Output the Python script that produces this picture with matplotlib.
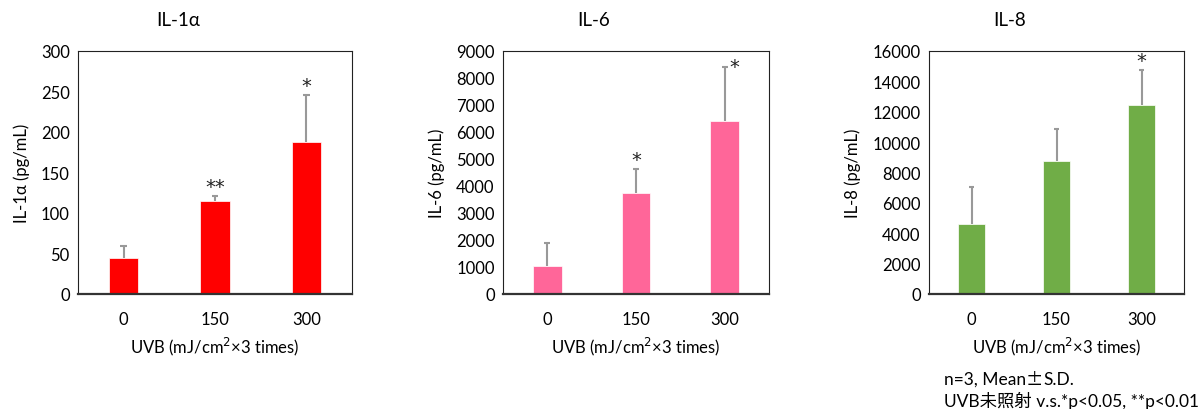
import matplotlib as mpl
mpl.use('Agg')
from matplotlib import pyplot as plt
import numpy as np

plt.rcParams['font.family'] = ['Lato', 'Noto Sans CJK JP', 'DejaVu Sans']

doses = ['0', '150', '300']

il1a_mean = [44, 115, 188]
il1a_sd = [15.5, 6.5, 58]
il1a_stars = ['', '**', '*']

il6_mean = [1030, 3730, 6420]
il6_sd = [870, 910, 2000]
il6_stars = ['', '*', '*']

il8_mean = [4590, 8740, 12470]
il8_sd = [2480, 2130, 2280]
il8_stars = ['', '', '*']

panels = [
    ('IL-1α', 'IL-1α (pg/mL)', il1a_mean, il1a_sd, il1a_stars, '#FF0000', 300, 50),
    ('IL-6', 'IL-6 (pg/mL)', il6_mean, il6_sd, il6_stars, '#FF6699', 9000, 1000),
    ('IL-8', 'IL-8 (pg/mL)', il8_mean, il8_sd, il8_stars, '#70AD47', 16000, 2000),
]

W, H = 1203, 410
fig = plt.figure(figsize=(W / 100, H / 100), dpi=100)

# axes boxes in pixels: left, right
ax_px = [(78, 352), (503, 769), (929, 1184)]
title_x = [178, 594, 1010]
# star offsets in pixels from the top of the error bar
star_off = [[(0, 14)] * 3, [(0, 14), (0, 14), (10, 5)], [(0, 14)] * 3]
top_px, bot_px = 52, 295

for i, (title, ylab, mean, sd, stars, color, ymax, step) in enumerate(panels):
    l, r = ax_px[i]
    ax = fig.add_axes([l / W, 1 - bot_px / H, (r - l) / W, (bot_px - top_px) / H])
    x = np.arange(len(doses)) + 0.5
    mean = np.array(mean, dtype=float)
    sd = np.array(sd, dtype=float)
    ax.bar(x, mean, width=0.32, color=color, edgecolor='white', linewidth=0.5, zorder=2)
    # one-sided error bars
    ax.vlines(x, mean, mean + sd, color='#999999', linewidth=1.5, zorder=3)
    ax.hlines(mean + sd, x - 0.035, x + 0.035, color='#999999', linewidth=1.5, zorder=3)
    for j, s in enumerate(stars):
        if s:
            dx, dy = star_off[i][j]
            ax.annotate(s, (x[j], mean[j] + sd[j]), xytext=(dx, dy - 5),
                        textcoords='offset pixels', ha='center', va='center',
                        fontsize=14, family='DejaVu Sans', color='#222222')
    ax.set_xlim(0, 3)
    ax.set_ylim(0, ymax)
    ax.set_yticks(np.arange(0, ymax + 1, step))
    ax.set_xticks(x)
    ax.set_xticklabels(doses)
    ax.tick_params(length=0, labelsize=12, pad=6)
    ax.tick_params(axis='x', pad=12)
    for sp in ['top', 'right', 'left']:
        ax.spines[sp].set_linewidth(0.8)
        ax.spines[sp].set_color('#222222')
    ax.spines['bottom'].set_linewidth(1.6)
    ax.spines['bottom'].set_color('#333333')
    ax.set_ylabel(ylab, fontsize=12, labelpad=8)
    ax.set_xlabel('UVB (mJ/cm$^2$×3 times)', fontsize=12, labelpad=6)
    fig.text(title_x[i] / W, 1 - 20 / H, title, ha='center', va='center', fontsize=13.5)

# footnote: the ± sign is taken from the Japanese font (full width)
renderer = fig.canvas.get_renderer()
y1 = 1 - 380 / H
t1 = fig.text(944 / W, y1, 'n=3, Mean', ha='left', va='center', fontsize=12.5)
x1 = t1.get_window_extent(renderer).x1
t2 = fig.text(x1 / W, y1, '±', ha='left', va='center', fontsize=12.5,
              family='Noto Sans CJK JP')
x2 = t2.get_window_extent(renderer).x1
fig.text(x2 / W, y1, 'S.D.', ha='left', va='center', fontsize=12.5)
fig.text(944 / W, 1 - 401 / H, 'UVB未照射 v.s.*p<0.05, **p<0.01', ha='left', va='center', fontsize=12.5)

fig.savefig('out.png', dpi=100)
